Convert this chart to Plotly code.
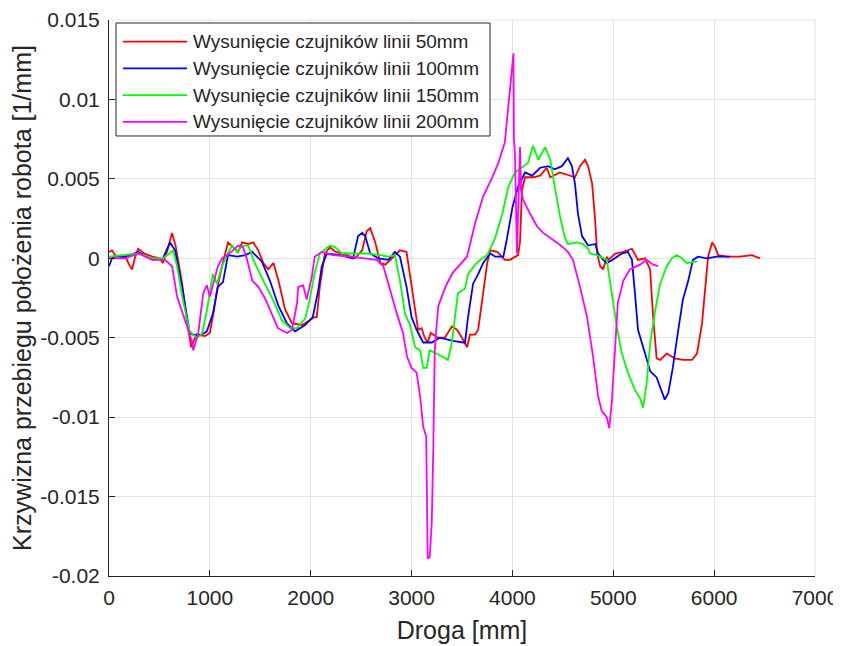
import plotly.graph_objects as go

# ---------------- data (Droga [mm], Krzywizna [1/mm]) ----------------
names = [
    "Wysunięcie czujników linii 50mm",
    "Wysunięcie czujników linii 100mm",
    "Wysunięcie czujników linii 150mm",
    "Wysunięcie czujników linii 200mm",
]

x_50 = [0, 30, 60, 120, 170, 200, 228, 260, 290, 350, 430, 500, 535, 580, 625, 660, 725, 770, 800, 815,
        840, 870, 950, 1000, 1040, 1070, 1120, 1180, 1230, 1280, 1320, 1380, 1430, 1480, 1530, 1580, 1630,
        1680, 1745, 1815, 1915, 1990, 2040, 2060, 2090, 2140, 2190, 2250, 2360, 2440, 2510, 2555, 2590,
        2640, 2690, 2740, 2820, 2885, 2950, 3000, 3035, 3065, 3100, 3130, 3160, 3190, 3260, 3330, 3400,
        3450, 3500, 3550, 3580, 3630, 3660, 3710, 3750, 3780, 3850, 3925, 3975, 4055, 4075, 4095, 4125,
        4205, 4275, 4340, 4375, 4470, 4570, 4620, 4670, 4720, 4750, 4790, 4820, 4840, 4870, 4900, 4935,
        4950, 5020, 5100, 5185, 5245, 5315, 5365, 5395, 5430, 5465, 5530, 5610, 5690, 5780, 5830, 5880,
        5910, 5940, 5980, 6010, 6040, 6130, 6255, 6375, 6455]
y_50 = [0.0004, 0.0005, 0.0002, 0.0001, 0.0, -0.0004, -0.0007, 0.0001, 0.0006, 0.0003, 0.0001, 0.0,
        -0.0003, 0.0005, 0.0016, 0.0008, -0.0016, -0.0038, -0.0051, -0.0056, -0.0052, -0.0048, -0.0049,
        -0.0047, -0.0033, -0.002, -0.0005, 0.001, 0.0007, 0.0004, 0.001, 0.0009, 0.001, 0.0005, -0.0003,
        -0.0007, -0.0003, -0.0014, -0.0032, -0.0041, -0.0042, -0.0039, -0.0037, -0.0037, -0.0018, 0.0003,
        0.0007, 0.0004, 0.0002, 0.0, 0.0005, 0.0017, 0.0019, 0.001, -0.0003, -0.0004, 0.0001, 0.0005,
        0.0004, -0.0016, -0.0033, -0.0045, -0.0044, -0.005, -0.0053, -0.0047, -0.005, -0.005, -0.0043,
        -0.0045, -0.005, -0.0056, -0.0048, -0.0048, -0.0045, -0.0022, -0.0003, 0.0005, 0.0004, -0.0001,
        -0.0001, 0.0002, 0.001, 0.0043, 0.0051, 0.0051, 0.0052, 0.0057, 0.0051, 0.0054, 0.0052, 0.0051,
        0.0058, 0.0062, 0.0058, 0.0047, 0.0024, 0.0003, -0.0005, -0.0007, 0.0001, -0.0001, 0.0003, 0.0004,
        0.0006, -0.0001, 0.0, -0.0007, -0.0037, -0.0063, -0.0064, -0.006, -0.0063, -0.0064, -0.0064,
        -0.006, -0.0041, -0.002, 0.0001, 0.001, 0.0007, 0.0002, 0.0001, 0.0001, 0.0002, 0.0]

x_100 = [0, 30, 60, 160, 290, 430, 535, 605, 655, 725, 800, 830, 920, 970, 1030, 1080, 1130, 1180, 1270,
         1350, 1420, 1515, 1595, 1680, 1765, 1845, 1945, 2020, 2075, 2110, 2160, 2290, 2420, 2470, 2510,
         2540, 2590, 2670, 2770, 2835, 2885, 2950, 3000, 3050, 3115, 3200, 3280, 3410, 3510, 3530, 3560,
         3610, 3660, 3710, 3780, 3830, 3910, 3945, 4000, 4055, 4125, 4195, 4275, 4355, 4420, 4490, 4550,
         4590, 4620, 4650, 4690, 4750, 4820, 4850, 4900, 4935, 4990, 5085, 5145, 5185, 5215, 5245, 5315,
         5365, 5430, 5480, 5510, 5545, 5590, 5640, 5690, 5740, 5790, 5840, 5925, 6025, 6155]
y_100 = [-0.0005, 0.0, 0.0001, 0.0001, 0.0004, -0.0001, 0.0, 0.001, 0.0005, -0.0018, -0.0047, -0.0048,
         -0.0048, -0.0046, -0.0035, -0.0018, -0.0015, 0.0002, 0.0001, 0.0002, 0.0004, -0.0002, -0.0014,
         -0.003, -0.0041, -0.0046, -0.0042, -0.0037, -0.002, -0.0005, 0.0003, 0.0002, 0.0, 0.0014, 0.0016,
         0.0014, 0.0003, 0.0, -0.0001, 0.0004, 0.0001, -0.0018, -0.0037, -0.0045, -0.0053, -0.0053, -0.005,
         -0.0052, -0.0053, -0.0053, -0.0037, -0.0016, -0.001, -0.0003, 0.0003, 0.0001, 0.0001, 0.0012,
         0.0032, 0.0045, 0.0054, 0.0052, 0.0057, 0.0058, 0.0056, 0.0058, 0.0063, 0.0058, 0.0047, 0.0028,
         0.0014, 0.0008, 0.0009, 0.0003, -0.0001, -0.0003, -0.0001, 0.0003, 0.0004, -0.0001, -0.0022,
         -0.0045, -0.006, -0.0071, -0.0075, -0.0083, -0.0089, -0.0085, -0.0069, -0.0047, -0.0026, -0.0015,
         -0.0001, 0.0001, 0.0, 0.0001, 0.0001]

x_150 = [0, 160, 290, 430, 535, 635, 675, 735, 800, 870, 920, 970, 1030, 1070, 1120, 1170, 1220, 1270,
         1320, 1380, 1445, 1545, 1625, 1715, 1795, 1865, 1945, 1990, 2025, 2040, 2090, 2190, 2240, 2310,
         2420, 2555, 2690, 2770, 2835, 2885, 2935, 2985, 3035, 3085, 3115, 3150, 3180, 3250, 3310, 3360,
         3400, 3430, 3460, 3530, 3560, 3630, 3700, 3750, 3830, 3900, 3960, 4025, 4105, 4155, 4205, 4255,
         4325, 4375, 4420, 4470, 4520, 4550, 4640, 4700, 4750, 4770, 4840, 4935, 4985, 5035, 5085, 5145,
         5215, 5265, 5295, 5330, 5365, 5415, 5465, 5530, 5580, 5630, 5680, 5730, 5830]
y_150 = [0.0001, 0.0002, 0.0003, 0.0, 0.0, 0.0005, -0.0005, -0.0027, -0.0046, -0.005, -0.0048, -0.0033,
         -0.001, -0.0016, -0.0005, 0.0002, 0.0008, 0.0004, 0.0008, 0.0008, -0.0003, -0.0016, -0.0026,
         -0.0039, -0.0044, -0.0044, -0.0038, -0.0026, -0.0015, -0.0009, 0.0003, 0.0008, 0.0007, 0.0003,
         0.0003, 0.0003, 0.0002, 0.0001, 0.0002, -0.0014, -0.0035, -0.0042, -0.0056, -0.0058, -0.0069,
         -0.0069, -0.0058, -0.006, -0.0062, -0.0064, -0.0053, -0.0037, -0.0022, -0.0019, -0.001, -0.0004,
         0.0, 0.0002, 0.0013, 0.0028, 0.0045, 0.0054, 0.0058, 0.006, 0.0071, 0.0062, 0.007, 0.0062, 0.0045,
         0.0027, 0.0013, 0.0009, 0.001, 0.0009, 0.0006, 0.0003, 0.0002, -0.0001, -0.0022, -0.0043, -0.006,
         -0.0072, -0.0083, -0.0088, -0.0094, -0.0079, -0.0054, -0.0033, -0.0016, -0.0005, 0.0, 0.0002,
         0.0, -0.0003, -0.0002]

x_200 = [0, 160, 290, 430, 555, 625, 675, 735, 785, 825, 835, 885, 935, 970, 1000, 1030, 1080, 1120,
         1170, 1230, 1280, 1330, 1370, 1420, 1480, 1545, 1615, 1675, 1765, 1815, 1865, 1875, 1925, 1960,
         2010, 2040, 2110, 2220, 2390, 2555, 2655, 2720, 2785, 2855, 2915, 2955, 3000, 3050, 3085, 3115,
         3145, 3150, 3160, 3180, 3200, 3215, 3230, 3245, 3265, 3300, 3350, 3410, 3480, 3550, 3630, 3710,
         3800, 3860, 3925, 3955, 3975, 3995, 4005, 4010, 4015, 4025, 4045, 4065, 4075, 4085, 4105, 4175,
         4245, 4305, 4375, 4440, 4500, 4550, 4600, 4670, 4740, 4800, 4850, 4885, 4935, 4960, 4985, 5020,
         5045, 5100, 5165, 5265, 5330, 5395, 5445]
y_200 = [0.0, 0.0, 0.0003, -0.0001, -0.0001, -0.0005, -0.0024, -0.0035, -0.0045, -0.0053, -0.0058,
         -0.0047, -0.0022, -0.0017, -0.0024, -0.0017, -0.0005, 0.0, 0.0002, 0.0005, 0.0008, 0.0007,
         -0.0001, -0.0014, -0.0018, -0.0025, -0.0035, -0.0044, -0.0047, -0.0045, -0.0028, -0.0018,
         -0.0017, -0.0026, -0.0012, 0.0001, 0.0004, 0.0002, 0.0001, 0.0, -0.0001, -0.0005, -0.002,
         -0.0035, -0.0047, -0.0062, -0.0069, -0.0072, -0.0087, -0.0106, -0.0112, -0.016, -0.0189,
         -0.0188, -0.0167, -0.0121, -0.0058, -0.0045, -0.003, -0.0024, -0.0016, -0.0009, -0.0004, 0.0001,
         0.0022, 0.0039, 0.0051, 0.006, 0.0073, 0.0093, 0.011, 0.012, 0.0129, 0.0129, 0.0075, 0.0066,
         0.0003, 0.0051, 0.007, 0.0043, 0.0037, 0.0028, 0.002, 0.0016, 0.0013, 0.001, 0.0007, 0.0004,
         -0.0001, -0.0018, -0.0037, -0.0062, -0.0087, -0.0096, -0.01, -0.0107, -0.0091, -0.0058, -0.0028,
         -0.0014, -0.0007, -0.0004, -0.0001, -0.0004, -0.0005]

colors = ["#ff0000", "#0000ff", "#00ff00", "#ff00ff"]

x_ticks = [0, 1000, 2000, 3000, 4000, 5000, 6000, 7000]
x_ticktext = ["0", "1000", "2000", "3000", "4000", "5000", "6000", "7000"]
y_ticks = [0.015, 0.01, 0.005, 0, -0.005, -0.01, -0.015, -0.02]
y_ticktext = ["0.015", "0.01", "0.005", "0", "-0.005", "-0.01", "-0.015", "-0.02"]

x_title = "Droga [mm]"
y_title = "Krzywizna przebiegu położenia robota [1/mm]"

# ---------------- figure ----------------
FONT = "Liberation Sans, Arial, sans-serif"
TXT = "#262626"
GRID = "#e3e3e3"

fig = go.Figure()
for nm, xs, ys, c in zip(names, [x_50, x_100, x_150, x_200], [y_50, y_100, y_150, y_200], colors):
    fig.add_trace(go.Scatter(x=xs, y=ys, mode="lines", name=nm, showlegend=False,
                             line=dict(color=c, width=1.8)))

# the page places the figure 8 px from the top-left corner
fig.update_layout(
    width=833, height=638,
    margin=dict(l=101, r=26, t=12, b=70, autoexpand=False),
    paper_bgcolor="white", plot_bgcolor="white",
    font=dict(family=FONT, size=20, color=TXT),
    showlegend=False,
)
fig.update_xaxes(range=[0, 7000], tickvals=x_ticks, ticktext=x_ticktext, automargin=False,
                 showgrid=True, gridcolor=GRID, gridwidth=1,
                 showline=True, linecolor=TXT, linewidth=1, mirror=False,
                 ticks="inside", ticklen=6, tickcolor=TXT, zeroline=False,
                 ticklabelstandoff=3,
                 tickfont=dict(family=FONT, size=21, color=TXT),
                 title=dict(text=x_title, font=dict(family=FONT, size=25, color=TXT), standoff=13))
fig.update_yaxes(range=[-0.02, 0.015], tickvals=y_ticks, ticktext=y_ticktext, automargin=False,
                 showgrid=True, gridcolor=GRID, gridwidth=1,
                 showline=True, linecolor=TXT, linewidth=1, mirror=False,
                 ticks="inside", ticklen=6, tickcolor=TXT, zeroline=False,
                 ticklabelstandoff=4,
                 tickfont=dict(family=FONT, size=21, color=TXT),
                 title=dict(text=y_title, font=dict(family=FONT, size=25, color=TXT), standoff=6))
# light frame on top/right (grid-like edges)
fig.add_shape(type="line", xref="paper", yref="paper", x0=0, x1=1, y0=1, y1=1,
              line=dict(color=GRID, width=1), layer="below")
fig.add_shape(type="line", xref="paper", yref="paper", x0=1, x1=1, y0=0, y1=1,
              line=dict(color=GRID, width=1), layer="below")

# legend box drawn in paper coordinates (MATLAB-like long line samples)
LEG_X0, LEG_X1, LEG_Y0, LEG_Y1 = 0.0099, 0.5397, 0.7914, 0.9946
LINE_X0, LINE_X1, TEXT_X = 0.0198, 0.1105, 0.1161
row_y = [0.9610, 0.9129, 0.8649, 0.8169]
fig.add_shape(type="rect", xref="paper", yref="paper", x0=LEG_X0, x1=LEG_X1, y0=LEG_Y0, y1=LEG_Y1,
              fillcolor="white", line=dict(color=TXT, width=1), layer="above")
for nm, c, ry in zip(names, colors, row_y):
    fig.add_shape(type="line", xref="paper", yref="paper", x0=LINE_X0, x1=LINE_X1, y0=ry, y1=ry,
                  line=dict(color=c, width=1.8), layer="above")
    fig.add_annotation(xref="paper", yref="paper", x=TEXT_X, y=ry, text=nm, showarrow=False,
                       xanchor="left", yanchor="middle",
                       font=dict(family=FONT, size=19, color=TXT))

fig.write_html("out.html")
